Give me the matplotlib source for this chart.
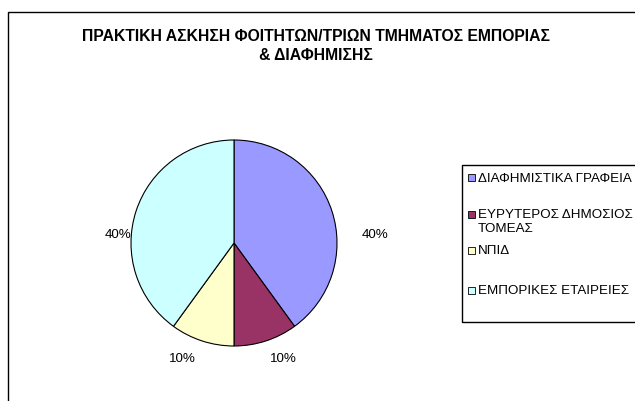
import matplotlib
matplotlib.use("Agg")
import matplotlib.pyplot as plt
from matplotlib.patches import Rectangle

plt.rcParams["font.family"] = ["Liberation Sans", "DejaVu Sans"]

# data
categories = ["ΔΙΑΦΗΜΙΣΤΙΚΑ ΓΡΑΦΕΙΑ", "ΕΥΡΥΤΕΡΟΣ ΔΗΜΟΣΙΟΣ\nΤΟΜΕΑΣ", "ΝΠΙΔ", "ΕΜΠΟΡΙΚΕΣ ΕΤΑΙΡΕΙΕΣ"]
shares = [40, 10, 10, 40]
colors = ["#9999FF", "#993366", "#FFFFCC", "#CCFFFF"]
title = "ΠΡΑΚΤΙΚΗ ΑΣΚΗΣΗ ΦΟΙΤΗΤΩΝ/ΤΡΙΩΝ ΤΜΗΜΑΤΟΣ ΕΜΠΟΡΙΑΣ\n& ΔΙΑΦΗΜΙΣΗΣ"

W, H = 635, 401
fig = plt.figure(figsize=(W / 100, H / 100), dpi=100)

# outer chart frame (runs off the right and bottom edges)
fig.patches.append(Rectangle((8 / W, -0.05), 1.1, 1 - 12 / H + 0.05, transform=fig.transFigure,
                             fill=False, edgecolor="black", linewidth=1.0))

fig.text(316 / W, 1 - 46 / H, title, ha="center", va="center", fontsize=11.3,
         fontweight="bold", linespacing=1.38)

# pie: centre (234, 243) px, radius ~103 px
r_px = 103
cx, cy = 234, 243
ax = fig.add_axes([(cx - r_px) / W, 1 - (cy + r_px) / H, 2 * r_px / W, 2 * r_px / H])
wedges, _ = ax.pie(shares, colors=colors, startangle=90, counterclock=False,
                   wedgeprops=dict(edgecolor="black", linewidth=0.8))
ax.set_xlim(-1, 1)
ax.set_ylim(-1, 1)
ax.set_aspect("equal")

# percentage labels (Excel places them close to the edge)
label_pos = [(1.37, 0.08), (0.48, -1.13), (-0.50, -1.13), (-1.13, 0.08)]
for v, (lx, ly) in zip(shares, label_pos):
    ax.text(lx, ly, f"{v}%", ha="center", va="center", fontsize=9.6, clip_on=False)

# legend box
fig.patches.append(Rectangle((462 / W, 1 - 322 / H), 0.5, (322 - 165) / H,
                             transform=fig.transFigure, fill=False,
                             edgecolor="black", linewidth=1.0))
legend_y = [178.5, 222, 251.5, 291.5]
for lab, col, y in zip(categories, colors, legend_y):
    first_line_y = y - 7 if "\n" in lab else y
    fig.patches.append(Rectangle((468 / W, 1 - (first_line_y + 2.5) / H), 7 / W, 7 / H,
                                 transform=fig.transFigure, facecolor=col,
                                 edgecolor="black", linewidth=0.6))
    fig.text(478 / W, 1 - y / H, lab, ha="left", va="center", fontsize=9.6, linespacing=1.15)

fig.savefig("out.png", dpi=100)
